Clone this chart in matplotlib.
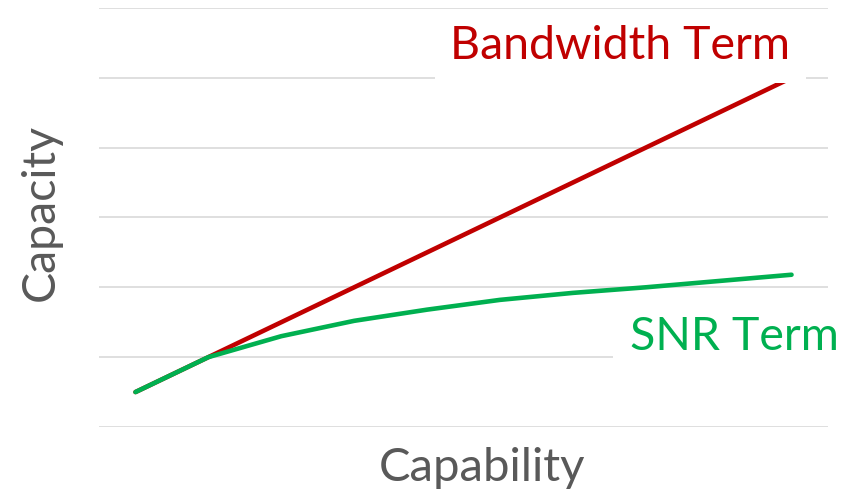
import matplotlib.pyplot as plt

plt.rcParams['font.family'] = ['Lato', 'DejaVu Sans']

# Ten evenly spaced capability steps
steps = list(range(10))
bandwidth_term = [0.5, 1.0, 1.5, 2.0, 2.5, 3.0, 3.5, 4.0, 4.5, 5.0]
snr_term = [0.5, 1.0, 1.3, 1.52, 1.68, 1.82, 1.92, 2.0, 2.09, 2.18]

red = '#C00000'
green = '#00B050'
grey_text = '#595959'

fig = plt.figure(figsize=(8.5, 4.93), dpi=100)
ax = fig.add_axes([0.1165, 0.1339, 0.8576, 0.85])

ax.plot(steps, bandwidth_term, color=red, lw=3.3, solid_capstyle='round', zorder=3)
ax.plot(steps, snr_term, color=green, lw=3.3, solid_capstyle='round', zorder=4)

ax.set_xlim(-0.5, 9.5)
ax.set_ylim(0, 6)
ax.set_yticks(range(7))
ax.grid(axis='y', color='#d9d9d9', lw=1.2)
ax.set_axisbelow(True)
ax.tick_params(left=False, bottom=False, labelleft=False, labelbottom=False)
for s in ax.spines.values():
    s.set_visible(False)

# series labels sit in white boxes over the gridlines
ax.text(0.715, 0.908, 'Bandwidth Term', transform=ax.transAxes, color=red,
        fontsize=33.5, ha='center', va='center', zorder=10,
        bbox=dict(boxstyle='square,pad=0.33', facecolor='white', edgecolor='none'))
ax.text(0.871, 0.215, 'SNR Term', transform=ax.transAxes, color=green,
        fontsize=33.5, ha='center', va='center', zorder=10,
        bbox=dict(boxstyle='square,pad=0.35', facecolor='white', edgecolor='none'))

fig.text(0.567, 0.05, 'Capability', color=grey_text, fontsize=34,
         ha='center', va='center')
fig.text(0.048, 0.57, 'Capacity', color=grey_text, fontsize=33.5,
         ha='center', va='center', rotation=90)

fig.savefig('out.png', dpi=100)
